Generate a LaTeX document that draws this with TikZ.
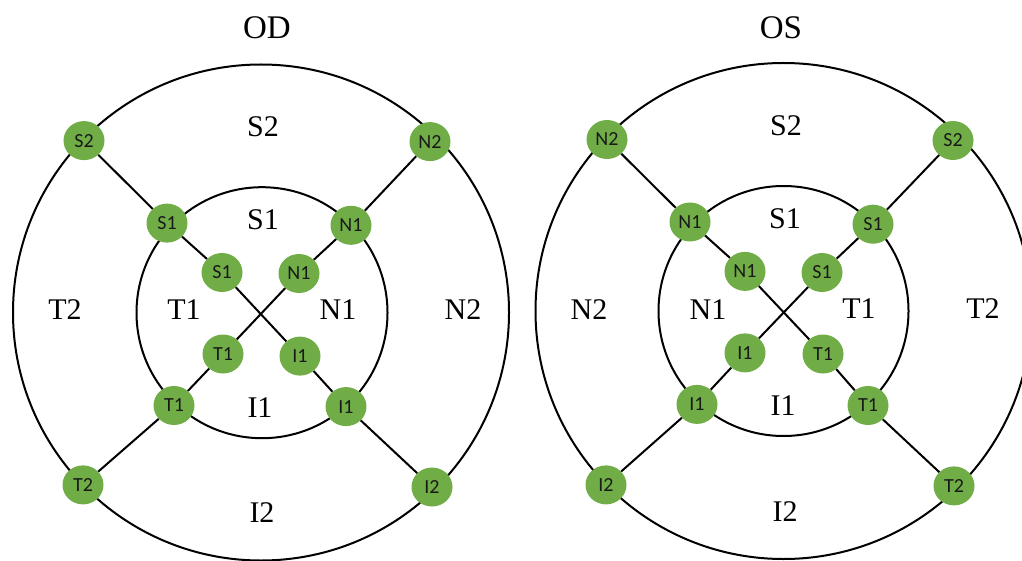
\documentclass[tikz,border=0pt]{standalone}
\usepackage{fontspec}
\setmainfont{Liberation Serif}
\newfontfamily\nodefont{Carlito}
\usetikzlibrary{shapes.geometric}
\definecolor{leafgreen}{HTML}{70AD47}
\begin{document}
\begin{tikzpicture}[x=1pt,y=-1pt,
  ring/.style={draw=black,line width=2pt},
  spoke/.style={draw=black,line width=2pt},
  site/.style={ellipse,fill=leafgreen,minimum width=41pt,minimum height=39pt,
    inner sep=0pt,text=black!90,font=\nodefont\fontsize{20}{20}\selectfont},
  zone/.style={font=\fontsize{30}{30}\selectfont},
  heading/.style={font=\fontsize{33}{33}\selectfont}]
\path[use as bounding box] (0,0) rectangle (1022,561);

% ---------- left eye: OD ----------
\begin{scope}[name prefix=L-]
  \draw[ring] (261,312.5) circle [radius=248];
  \draw[ring] (262,312.7) circle [radius=125.5];
  \node[heading] (title) at (267,28) {OD};
  \node[zone] (zS2) at (263,126.5) {S2};
  \node[zone] (zS1) at (263,219.9) {S1};
  \node[zone] (zT2) at (65,310) {T2};
  \node[zone] (zT1) at (184,310) {T1};
  \node[zone] (zN1) at (338,310) {N1};
  \node[zone] (zN2) at (463,310) {N2};
  \node[zone] (zI1) at (260,407.6) {I1};
  \node[zone] (zI2) at (262,512.7) {I2};
  % outer ring sites
  \node[site] (tlO) at (84,140.6) {S2};
  \node[site] (trO) at (430,141.6) {N2};
  \node[site] (blO) at (83,484.9) {T2};
  \node[site] (brO) at (432,487) {I2};
  % inner ring sites
  \node[site] (tlM) at (167,223.1) {S1};
  \node[site] (trM) at (351,225.3) {N1};
  \node[site] (blM) at (174,405.5) {T1};
  \node[site] (brM) at (346,406.6) {I1};
  % central sites
  \node[site] (tlC) at (222,272.5) {S1};
  \node[site] (trC) at (299,273.5) {N1};
  \node[site] (blC) at (223,354) {T1};
  \node[site] (brC) at (300,356.1) {I1};
  \draw[spoke] (tlO) -- (tlM) -- (tlC) -- (brC) -- (brM) -- (brO);
  \draw[spoke] (trO) -- (trM) -- (trC) -- (blC) -- (blM) -- (blO);
\end{scope}

% ---------- right eye: OS ----------
\begin{scope}[xshift=522pt,name prefix=R-]
  \draw[ring] (261.5,311) circle [radius=248];
  \draw[ring] (261.5,311) circle [radius=125];
  \node[heading] (title) at (259,28) {OS};
  \node[zone] (zS2) at (264,125.5) {S2};
  \node[zone] (zS1) at (263,218.8) {S1};
  \node[zone] (zN2) at (67,310) {N2};
  \node[zone] (zN1) at (186,310) {N1};
  \node[zone] (zT1) at (337,309) {T1};
  \node[zone] (zT2) at (461,309) {T2};
  \node[zone] (zI1) at (261,405.5) {I1};
  \node[zone] (zI2) at (263,511.7) {I2};
  % outer ring sites
  \node[site] (tlO) at (85,139.5) {N2};
  \node[site] (trO) at (431,140.5) {S2};
  \node[site] (blO) at (84,484.9) {I2};
  \node[site] (brO) at (432,485.9) {T2};
  % inner ring sites
  \node[site] (tlM) at (168,222) {N1};
  \node[site] (trM) at (351,224.2) {S1};
  \node[site] (blM) at (175,404.4) {I1};
  \node[site] (brM) at (346,405.5) {T1};
  % central sites
  \node[site] (tlC) at (223,271.4) {N1};
  \node[site] (trC) at (300,272.5) {S1};
  \node[site] (blC) at (223,352.9) {I1};
  \node[site] (brC) at (301,354) {T1};
  \draw[spoke] (tlO) -- (tlM) -- (tlC) -- (brC) -- (brM) -- (brO);
  \draw[spoke] (trO) -- (trM) -- (trC) -- (blC) -- (blM) -- (blO);
\end{scope}
\end{tikzpicture}
\end{document}
